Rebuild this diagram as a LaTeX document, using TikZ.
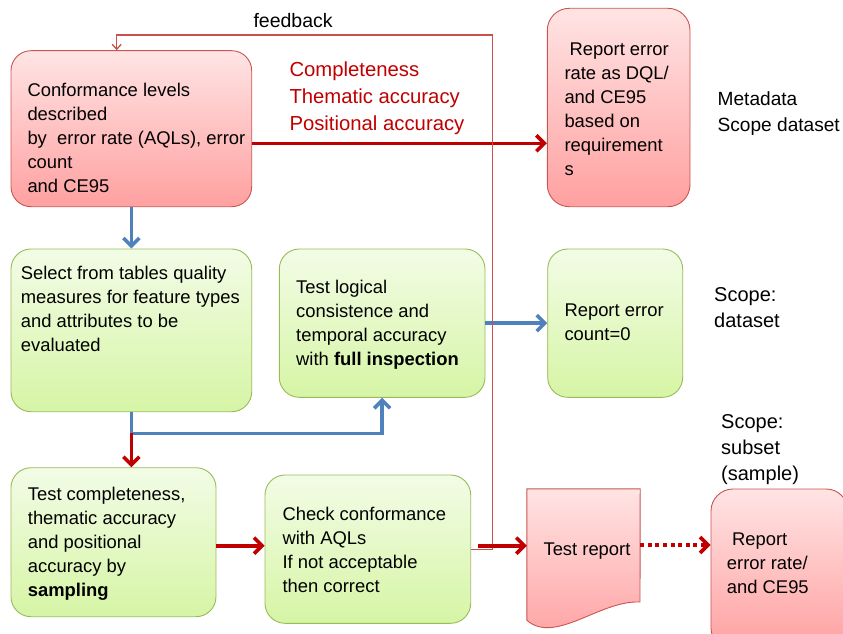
\documentclass[tikz,border=0pt]{standalone}
\usepackage{fontspec}
\setmainfont{Liberation Sans}
\usetikzlibrary{arrows.meta}
\definecolor{darkred}{RGB}{192,0,0}
\definecolor{fbred}{RGB}{200,80,77}
\definecolor{blueline}{RGB}{79,129,189}
\definecolor{redtop}{RGB}{255,228,228}
\definecolor{redbot}{RGB}{255,160,160}
\definecolor{redborder}{RGB}{200,85,82}
\definecolor{greentop}{RGB}{242,252,230}
\definecolor{greenbot}{RGB}{214,245,165}
\definecolor{greenborder}{RGB}{155,187,89}
\begin{document}
\begin{tikzpicture}[x=1pt,y=-1pt,
  redbox/.style={draw=redborder, line width=0.9pt, top color=redtop, bottom color=redbot, rounded corners=20pt, inner sep=0pt},
  greenbox/.style={draw=greenborder, line width=0.9pt, top color=greentop, bottom color=greenbot, rounded corners=20pt, inner sep=0pt},
  body/.style={anchor=north west, inner sep=0pt, align=left, font=\fontsize{18.4}{24}\selectfont},
  side/.style={anchor=north west, inner sep=0pt, align=left, font=\fontsize{20}{26.3}\selectfont},
  bigtip/.style={-{Straight Barb[length=8pt,width=16pt]}},
  thickred/.style={draw=darkred, line width=3.6pt, bigtip},
  thickblue/.style={draw=blueline, line width=3.6pt, bigtip},
  dotred/.style={draw=darkred, line width=3.6pt, dash pattern=on 4pt off 3.6pt, bigtip},
  fbline/.style={draw=fbred, line width=1.3pt, -{Straight Barb[length=5pt,width=9pt]}},
]
\useasboundingbox (0,0) rectangle (843,634);
\clip (0,0) rectangle (843,634);

% boxes
\node[redbox, minimum width=240.7pt, minimum height=156pt] (A) at (131.35,128.7) {};
\node[redbox, minimum width=142.7pt, minimum height=198.4pt, rounded corners=22pt] (B) at (618.65,107.5) {};
\node[greenbox, minimum width=240.7pt, minimum height=162.7pt] (C) at (131.35,330.35) {};
\node[greenbox, minimum width=205.7pt, minimum height=148.3pt] (D) at (382.15,323.15) {};
\node[greenbox, minimum width=135pt, minimum height=148.3pt] (E) at (615.2,323.15) {};
\node[greenbox, minimum width=205pt, minimum height=149pt] (F) at (113.5,542.2) {};
\node[greenbox, minimum width=205.7pt, minimum height=148.3pt] (G) at (367.85,549.15) {};
\node[redbox, minimum width=137pt, minimum height=161pt, rounded corners=22pt] (H) at (779.5,569.5) {};
\node[minimum width=113pt, minimum height=131pt, inner sep=0pt] (R) at (583.5,554.5) {};
\path[draw=redborder, line width=0.9pt, top color=redtop, bottom color=redbot]
  (R.north west) -- (R.north east) -- (640,602)
  .. controls (600,600) and (555,645) .. (R.south west) -- cycle;

% texts
\node[body] (At) at (27.3,82.7) {Conformance levels\\described\\by\ \ error rate (AQLs), error\\count\\and CE95};
\node[body] (Bt) at (564.3,42.7) {\hspace*{0.28em}Report error\\rate as DQL/\\and CE95\\based on\\requirement\\s};
\node[body] (Ct) at (20.7,265.7) {Select from tables quality\\measures for feature types\\and attributes to be\\evaluated};
\node[body] (Dt) at (296,280) {Test logical\\consistence and\\temporal accuracy\\with \textbf{full inspection}};
\node[body] (Et) at (564.3,304) {Report error\\count=0};
\node[body] (Ft) at (27.7,486.7) {Test completeness,\\thematic accuracy\\and positional\\accuracy by\\\textbf{sampling}};
\node[body] (Gt) at (282.3,507.3) {Check conformance\\with AQLs\\If not acceptable\\then correct};
\node[body, anchor=base] (Rt) at (587,555) {Test report};
\node[body] (Ht) at (726.7,532.7) {\hspace*{0.28em}Report\\error rate/\\and CE95};

\node[anchor=north west, inner sep=0pt, align=left, text=darkred, font=\fontsize{20.3}{26.7}\selectfont] (red) at (289.3,61.7) {Completeness\\Thematic accuracy\\Positional accuracy};
\node[side, font=\fontsize{19.1}{26}\selectfont] (meta) at (717.5,91) {Metadata\\Scope dataset};
\node[side] (scope1) at (714,287.3) {Scope:\\dataset};
\node[side] (scope2) at (721,414) {Scope:\\subset\\(sample)};
\node[anchor=north west, inner sep=0pt, font=\fontsize{19.5}{24}\selectfont] (fb) at (253.3,13.3) {feedback};

% connectors
\coordinate (aout) at ([yshift=-14.6pt]A.east);
\draw[thickred] (aout) -- (aout -| B.west);
\draw[thickblue] (A.south) -- (C.north);
\draw[thickblue] (D.east) -- (E.west);
\coordinate (split) at (131.35,433.3);
\draw[thickblue] (C.south) -- (split) -| (D.south);
\draw[thickred] (split) -- (split |- F.north);
\coordinate (fout) at ([yshift=-3.5pt]F.east);
\draw[thickred] (fout) -- (fout -| G.west);
\coordinate (fbturn) at (492.7,35);
\coordinate (fbend) at (116.7,35);
\draw[fbline] (G.east) -| (fbturn) -- (fbend) -- (fbend |- A.north);
\coordinate (gout) at ([xshift=7pt,yshift=3.45pt]G.east);
\draw[thickred] (gout) -- (gout -| R.west);
\coordinate (rout) at ([yshift=9.5pt]R.east);
\draw[dotred] (rout) -- (rout -| H.west);
\end{tikzpicture}
\end{document}
